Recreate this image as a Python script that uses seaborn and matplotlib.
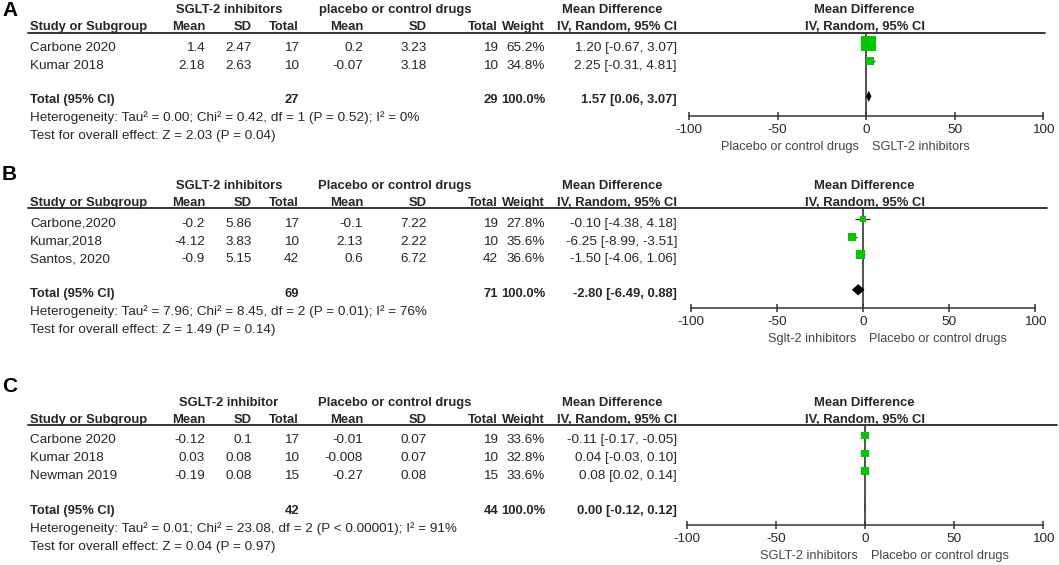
# =========================================================
# FOREST PLOTS - SGLT-2 INHIBITORS VS PLACEBO (3 PANELS)
# =========================================================

import numpy as np
import pandas as pd
import matplotlib.pyplot as plt
import seaborn as sns

# -------------------------------
# DATA
# -------------------------------

# panel A
a_study = ["Carbone 2020", "Kumar 2018"]
a_e_mean = ["1.4", "2.18"]
a_e_sd = ["2.47", "2.63"]
a_e_n = ["17", "10"]
a_c_mean = ["0.2", "-0.07"]
a_c_sd = ["3.23", "3.18"]
a_c_n = ["19", "10"]
a_weight = [65.2, 34.8]
a_md = [1.20, 2.25]
a_lo = [-0.67, -0.31]
a_hi = [3.07, 4.81]
a_total = ["27", "29", "100.0%"]
a_pooled = [1.57, 0.06, 3.07]
a_het = "Heterogeneity: Tau² = 0.00; Chi² = 0.42, df = 1 (P = 0.52); I² = 0%"
a_test = "Test for overall effect: Z = 2.03 (P = 0.04)"
a_groups = ["SGLT-2 inhibitors", "placebo or control drugs"]
a_favours = ["Placebo or control drugs", "SGLT-2 inhibitors"]

# panel B
b_study = ["Carbone,2020", "Kumar,2018", "Santos, 2020"]
b_e_mean = ["-0.2", "-4.12", "-0.9"]
b_e_sd = ["5.86", "3.83", "5.15"]
b_e_n = ["17", "10", "42"]
b_c_mean = ["-0.1", "2.13", "0.6"]
b_c_sd = ["7.22", "2.22", "6.72"]
b_c_n = ["19", "10", "42"]
b_weight = [27.8, 35.6, 36.6]
b_md = [-0.10, -6.25, -1.50]
b_lo = [-4.38, -8.99, -4.06]
b_hi = [4.18, -3.51, 1.06]
b_total = ["69", "71", "100.0%"]
b_pooled = [-2.80, -6.49, 0.88]
b_het = "Heterogeneity: Tau² = 7.96; Chi² = 8.45, df = 2 (P = 0.01); I² = 76%"
b_test = "Test for overall effect: Z = 1.49 (P = 0.14)"
b_groups = ["SGLT-2 inhibitors", "Placebo or control drugs"]
b_favours = ["Sglt-2 inhibitors", "Placebo or control drugs"]

# panel C
c_study = ["Carbone 2020", "Kumar 2018", "Newman 2019"]
c_e_mean = ["-0.12", "0.03", "-0.19"]
c_e_sd = ["0.1", "0.08", "0.08"]
c_e_n = ["17", "10", "15"]
c_c_mean = ["-0.01", "-0.008", "-0.27"]
c_c_sd = ["0.07", "0.07", "0.08"]
c_c_n = ["19", "10", "15"]
c_weight = [33.6, 32.8, 33.6]
c_md = [-0.11, 0.04, 0.08]
c_lo = [-0.17, -0.03, 0.02]
c_hi = [-0.05, 0.10, 0.14]
c_total = ["42", "44", "100.0%"]
c_pooled = [0.00, -0.12, 0.12]
c_het = "Heterogeneity: Tau² = 0.01; Chi² = 23.08, df = 2 (P < 0.00001); I² = 91%"
c_test = "Test for overall effect: Z = 0.04 (P = 0.97)"
c_groups = ["SGLT-2 inhibitor", "Placebo or control drugs"]
c_favours = ["SGLT-2 inhibitors", "Placebo or control drugs"]

ticks = [-100, -50, 0, 50, 100]

# -------------------------------
# STYLE
# -------------------------------

sns.set_style("white")
plt.rcParams['font.family'] = ['Liberation Sans', 'DejaVu Sans']

TXT = "#262626"
GREEN = "#00C800"
FS = 9.7      # table text
FS_B = 9.4    # bold table headers
W, H = 1059, 565

# column right edges (pixels)
col_x = [205, 252, 299, 363, 427, 498, 545, 677]
col_names = ["Mean", "SD", "Total", "Mean", "SD", "Total", "Weight", "IV, Random, 95% CI"]


def build_panel(study, e_mean, e_sd, e_n, c_mean, c_sd, c_n, weight, md, lo, hi):
    df = pd.DataFrame({
        'study': study, 'e_mean': e_mean, 'e_sd': e_sd, 'e_n': e_n,
        'c_mean': c_mean, 'c_sd': c_sd, 'c_n': c_n,
        'weight': weight, 'md': md, 'lo': lo, 'hi': hi})
    df['row'] = np.arange(len(df))
    df['wtxt'] = df['weight'].map(lambda w: f"{w:.1f}%")
    df['ci'] = [f"{m:.2f} [{l:.2f}, {h:.2f}]" for m, l, h in zip(md, lo, hi)]
    return df


panels = [
    dict(label="A", df=build_panel(a_study, a_e_mean, a_e_sd, a_e_n, a_c_mean, a_c_sd, a_c_n,
                                   a_weight, a_md, a_lo, a_hi),
         total=a_total, pooled=a_pooled, het=a_het, test=a_test, groups=a_groups,
         favours=a_favours, label_y=11, row0=43.5, step=17.6, line_y=32.5, axis_y=116,
         ax_x=(689, 1043), line_end=1045),
    dict(label="B", df=build_panel(b_study, b_e_mean, b_e_sd, b_e_n, b_c_mean, b_c_sd, b_c_n,
                                   b_weight, b_md, b_lo, b_hi),
         total=b_total, pooled=b_pooled, het=b_het, test=b_test, groups=b_groups,
         favours=b_favours, label_y=174, row0=219, step=17.7, line_y=208, axis_y=308,
         ax_x=(691, 1035), line_end=1047),
    dict(label="C", df=build_panel(c_study, c_e_mean, c_e_sd, c_e_n, c_c_mean, c_c_sd, c_c_n,
                                   c_weight, c_md, c_lo, c_hi),
         total=c_total, pooled=c_pooled, het=c_het, test=c_test, groups=c_groups,
         favours=c_favours, label_y=386, row0=435.5, step=17.8, line_y=425, axis_y=525,
         ax_x=(687, 1043), line_end=1057),
]


def cell(x, y, s, bold=False, ha='right'):
    # y is the visual middle of the capitals; draw on the baseline below it
    fs = FS_B if bold else FS
    bg.text(x, y + fs * 1.389 * 0.716 / 2, s, fontsize=fs, color=TXT, ha=ha,
            va='baseline', fontweight='bold' if bold else 'normal')


# -------------------------------
# FIGURE
# -------------------------------

fig = plt.figure(figsize=(W / 100, H / 100), dpi=100)
bg = fig.add_axes([0, 0, 1, 1])
bg.set_xlim(0, W)
bg.set_ylim(H, 0)
bg.axis('off')

for p in panels:
    df = p['df']
    n = len(df)
    r0, st = p['row0'], p['step']
    hdr2 = p['line_y'] - 7
    hdr1 = hdr2 - 17

    # panel letter
    bg.text(2, p['label_y'], p['label'], fontsize=15, fontweight='bold',
            color='black', va='center', ha='left')

    # group headers
    cell(229, hdr1, p['groups'][0], bold=True, ha='center')
    cell(395, hdr1, p['groups'][1], bold=True, ha='center')
    cell(612, hdr1, "Mean Difference", bold=True, ha='center')
    cell(864, hdr1, "Mean Difference", bold=True, ha='center')

    # column headers
    cell(30, hdr2, "Study or Subgroup", bold=True, ha='left')
    for x, name in zip(col_x, col_names):
        cell(x, hdr2, name, bold=True)
    cell(865, hdr2, "IV, Random, 95% CI", bold=True, ha='center')
    bg.plot([28, p['line_end']], [p['line_y'], p['line_y']], color=TXT, lw=1.3)

    # study rows
    cols = ['e_mean', 'e_sd', 'e_n', 'c_mean', 'c_sd', 'c_n', 'wtxt', 'ci']
    for _, r in df.iterrows():
        y = r0 + st * r['row'] + 3
        cell(30, y, r['study'], ha='left')
        for x, c in zip(col_x, cols):
            cell(x, y, r[c])

    # total row
    yt = r0 + st * (n + 1) + 2.5
    m, l, h = p['pooled']
    cell(30, yt, "Total (95% CI)", bold=True, ha='left')
    for x, v in zip([col_x[2], col_x[5], col_x[6], col_x[7]],
                    p['total'] + [f"{m:.2f} [{l:.2f}, {h:.2f}]"]):
        cell(x, yt, v, bold=True)
    cell(30, yt + 17.8, p['het'], ha='left')
    cell(30, yt + 35.5, p['test'], ha='left')

    # forest axes
    x0, x1 = p['ax_x']
    ax = fig.add_axes([x0 / W, 1 - p['axis_y'] / H, (x1 - x0) / W,
                       (p['axis_y'] - p['line_y']) / H])
    ax.patch.set_alpha(0)
    ax.set_xlim(-100, 100)
    ax.set_ylim((p['axis_y'] - r0) / st, (p['line_y'] - r0) / st)

    ax.hlines(df['row'], df['lo'], df['hi'], color='#333333', lw=1)
    sizes = {w: (0.23 * w * 0.72) ** 2 for w in df['weight']}
    sns.scatterplot(data=df, x='md', y='row', size='weight', sizes=sizes, marker='s',
                    color=GREEN, linewidth=0, legend=False, ax=ax, zorder=3)
    ax.fill([l, m, h, m], [n + 1, n + 1 - 0.32, n + 1, n + 1 + 0.32],
            color='black', lw=0, zorder=3)
    ax.axvline(0, color='#333333', lw=1.2, zorder=1)

    sns.despine(ax=ax, left=True, top=True, right=True)
    ax.spines['bottom'].set_color('#333333')
    ax.spines['bottom'].set_linewidth(1.1)
    ax.set_yticks([])
    ax.set_xticks(ticks)
    ax.set_xticklabels([str(t) for t in ticks])
    ax.tick_params(axis='x', direction='inout', length=6, width=1.1, color='#333333',
                   labelsize=9.7, labelcolor=TXT, pad=3, bottom=True)
    ax.set_xlabel("")
    ax.set_ylabel("")

    # favours labels
    fy = p['axis_y'] + 31
    mid = x0 + (x1 - x0) / 2
    bg.text(mid - 7, fy, p['favours'][0], fontsize=9.2, color='#444444',
            ha='right', va='center')
    bg.text(mid + 6, fy, p['favours'][1], fontsize=9.2, color='#444444',
            ha='left', va='center')

plt.savefig("out.png", dpi=100)
